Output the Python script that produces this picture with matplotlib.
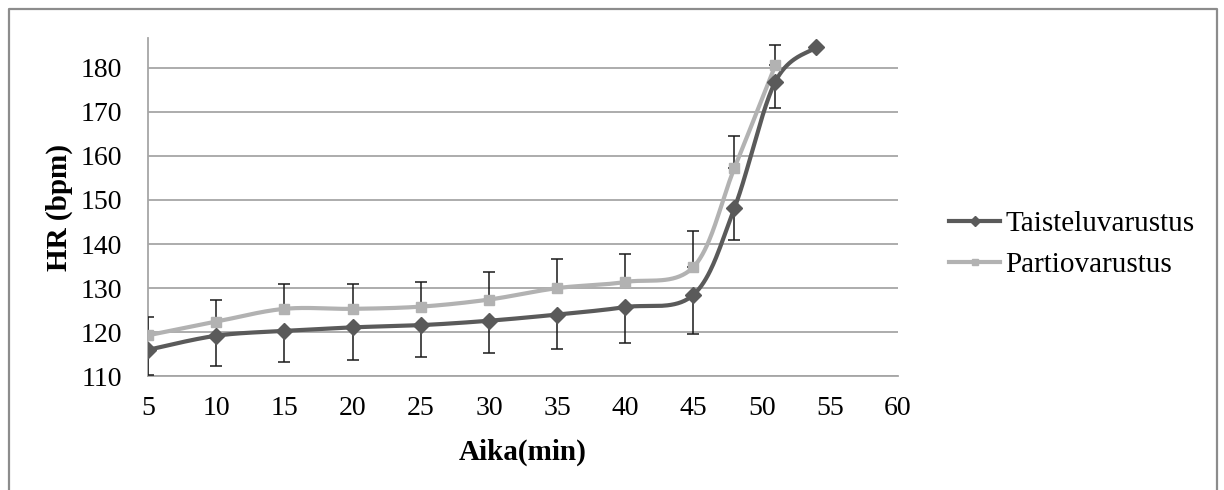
import numpy as np
import matplotlib
matplotlib.use("Agg")
import matplotlib.pyplot as plt
from matplotlib.lines import Line2D

# Heart rate over time for two equipment loads
time_t = [5, 10, 15, 20, 25, 30, 35, 40, 45, 48, 51, 54]
hr_t = [116.0, 119.2, 120.3, 121.1, 121.6, 122.6, 124.0, 125.7, 128.5, 148.1, 176.8, 184.6]
sd_t = [5.8, 6.9, 7.0, 7.5, 7.2, 7.4, 7.8, 8.1, 8.8, 7.1, 6.0]   # no SD for the last point

time_p = [5, 10, 15, 20, 25, 30, 35, 40, 45, 48, 51]
hr_p = [119.3, 122.4, 125.3, 125.3, 125.8, 127.4, 130.0, 131.4, 134.8, 157.2, 180.5]
sd_p = [4.1, 4.8, 5.6, 5.6, 5.7, 6.2, 6.7, 6.3, 8.1, 7.2, 4.7]

label_t = "Taisteluvarustus"
label_p = "Partiovarustus"
x_ticks = list(range(5, 61, 5))
y_ticks = list(range(110, 181, 10))

plt.rcParams["font.family"] = ["Liberation Serif", "DejaVu Serif"]

W, H = 1224, 490
fig = plt.figure(figsize=(W / 100, H / 100), dpi=100)
left, right, top, bottom = 148, 898, 37.7, 376.3
ax = fig.add_axes([left / W, 1 - bottom / H, (right - left) / W, (bottom - top) / H])
ax.set_xlim(5, 60)
ax.set_ylim(110, 186.8)

dark = "#5a5a5a"
light = "#b2b2b2"
grid_c = "#a6a6a6"


def smooth(ax, xs, ys, n=40):
    """Bezier smoothing (Catmull-Rom style) computed in screen space."""
    pts = ax.transData.transform(np.column_stack([xs, ys]))
    P = np.vstack([pts[0], pts, pts[-1]])
    out = []
    t = np.linspace(0, 1, n)[:, None]
    for i in range(1, len(P) - 2):
        p0, p1, p2, p3 = P[i - 1], P[i], P[i + 1], P[i + 2]
        c1 = p1 + (p2 - p0) / 6
        c2 = p2 - (p3 - p1) / 6
        seg = (1 - t) ** 3 * p1 + 3 * (1 - t) ** 2 * t * c1 + 3 * (1 - t) * t ** 2 * c2 + t ** 3 * p2
        out.append(seg if i == 1 else seg[1:])
    curve = np.vstack(out)
    return ax.transData.inverted().transform(curve)


# error bars: one-sided, plus for Partio, minus for Taistelu
n_sd = len(sd_t)
ax.errorbar(time_t[:n_sd], hr_t[:n_sd], yerr=[sd_t, [0] * n_sd], fmt="none",
            ecolor="#1a1a1a", elinewidth=1.1, capsize=4.5, capthick=1.1, zorder=3)
ax.errorbar(time_p, hr_p, yerr=[[0] * len(sd_p), sd_p], fmt="none",
            ecolor="#1a1a1a", elinewidth=1.1, capsize=4.5, capthick=1.1, zorder=3)

cp = smooth(ax, time_p, hr_p)
ax.plot(cp[:, 0], cp[:, 1], color=light, lw=3.0, solid_capstyle="round", zorder=4)
ax.plot(time_p, hr_p, ls="none", marker="s", ms=6.5, color=light, zorder=5)

ct = smooth(ax, time_t, hr_t)
ax.plot(ct[:, 0], ct[:, 1], color=dark, lw=3.0, solid_capstyle="round", zorder=4)
ax.plot(time_t, hr_t, ls="none", marker="D", ms=8.5, color=dark, zorder=5)

ax.set_xticks(x_ticks)
ax.set_yticks(y_ticks)
ax.tick_params(axis="both", length=0, labelsize=20)
ax.tick_params(axis="y", pad=19)
ax.tick_params(axis="x", pad=14)
ax.grid(axis="y", color=grid_c, lw=1.3, zorder=1)
ax.grid(axis="x", visible=False)
for s in ("top", "right"):
    ax.spines[s].set_visible(False)
ax.spines["left"].set_color(grid_c)
ax.spines["left"].set_linewidth(1.3)
ax.spines["bottom"].set_color(grid_c)
ax.spines["bottom"].set_linewidth(1.3)

ax.set_xlabel("Aika(min)", fontsize=21, fontweight="bold")
ax.xaxis.label.set_va("center")
ax.xaxis.set_label_coords(0.5, -0.2236)
ax.set_ylabel("HR (bpm)", fontsize=21, fontweight="bold")
ax.yaxis.label.set_va("center")
ax.yaxis.set_label_coords(-0.118, 0.5)

handles = [
    Line2D([], [], color=dark, lw=3.0, marker="D", ms=5.5),
    Line2D([], [], color=light, lw=3.0, marker="s", ms=4.5),
]
fig.legend(handles, [label_t, label_p], loc="upper left",
           bbox_to_anchor=(949 / W, 1 - 211 / H), frameon=False,
           fontsize=21, handlelength=1.75, handletextpad=0.17,
           labelspacing=0.5, borderpad=0, borderaxespad=0)

# chart frame
fx0, fx1, fy1 = 9 / W, 1216.7 / W, 1 - 9 / H
fig.add_artist(Line2D([fx0, fx0, fx1, fx1], [0, fy1, fy1, 0],
                      transform=fig.transFigure, color="#8c8c8c", lw=1.6))

fig.savefig("out.png", dpi=100)
